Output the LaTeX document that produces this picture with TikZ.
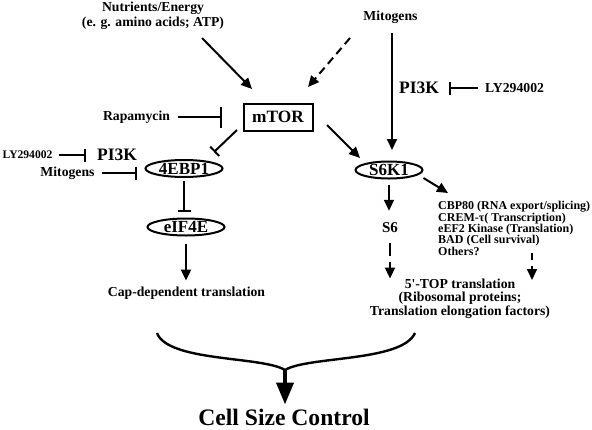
\documentclass[tikz,border=0pt]{standalone}
\usepackage{fontspec}
\setmainfont{Liberation Serif}
\usetikzlibrary{arrows.meta,shapes.geometric}

\tikzset{
    lbl/.style={inner sep=0pt, font=\fontsize{13.7}{15}\selectfont\bfseries},
    smalllbl/.style={inner sep=0pt, font=\fontsize{11.6}{13}\selectfont\bfseries},
    kin/.style={inner sep=0pt, font=\fontsize{17.5}{19}\selectfont\bfseries},
    prot/.style={draw, ellipse, line width=2pt, minimum width=77pt, minimum height=17pt,
        inner sep=0pt, font=\fontsize{17}{18}\selectfont\bfseries},
    tor/.style={draw, line width=2pt, minimum width=69pt, minimum height=27pt,
        inner sep=0pt, font=\fontsize{17.3}{18}\selectfont\bfseries},
    act/.style={line width=2pt, -{Triangle[length=11pt,width=10pt]}},
    inh/.style={line width=2pt, -{Bar[width=13pt,line width=2pt]}},
    dsh/.style={dash pattern=on 8pt off 5pt},
}

\begin{document}
\begin{tikzpicture}[x=1pt,y=1pt]

    \useasboundingbox (0,0) rectangle (592,-429);

    % inputs
    \node[lbl,align=center] (nutr) at (153,-15.5) {Nutrients/Energy\\(e. g. amino acids; ATP)};
    \node[lbl] (mitoT) at (390.5,-17) {Mitogens};
    \node[tor] (mtor) at (278,-117) {mTOR};
    \node[lbl] (rapa) at (136.5,-117) {Rapamycin};

    % left branch
    \node[smalllbl] (lyL) at (27.5,-155) {LY294002};
    \node[kin] (pikL) at (117,-155) {PI3K};
    \node[lbl] (mitoL) at (67.5,-173) {Mitogens};
    \node[prot] (ebp) at (184,-168.5) {4EBP1};
    \node[prot] (eif) at (186,-227) {eIF4E};
    \node[lbl] (cap) at (186.5,-293) {Cap-dependent translation};

    % right branch
    \node[kin] (pikR) at (419,-88) {PI3K};
    \node[lbl] (lyR) at (514.5,-88) {LY294002};
    \node[prot,minimum width=67pt] (s6k) at (389,-170) {S6K1};
    \node[lbl,font=\fontsize{15}{16}\selectfont\bfseries] (s6) at (390,-228) {S6};
    \node[inner sep=0pt,anchor=west,align=left,font=\fontsize{12}{11.3}\selectfont\bfseries] (targ) at (438,-228.5)
        {CBP80 (RNA export/splicing)\\CREM-τ( Transcription)\\eEF2 Kinase (Translation)\\BAD (Cell survival)\\Others?};
    \node[inner sep=0pt,align=center,font=\fontsize{13.7}{13.5}\selectfont\bfseries] (top) at (460,-298.5)
        {5\textquotesingle-TOP translation\\(Ribosomal proteins;\\Translation elongation factors)};

    % output
    \node[inner sep=0pt,font=\fontsize{23.6}{26}\selectfont\bfseries] (size) at (284,-417) {Cell Size Control};
    \coordinate (braceL) at (157,-333);
    \coordinate (braceR) at (415,-333);
    \coordinate (braceM) at (285,-370);

    % connectors
    \draw[act] ([shift={(49,-22.5)}]nutr.center) -- ([shift={(-26,28)}]mtor.center);
    \draw[act,dsh] ([shift={(-40.5,-21)}]mitoT.center) -- ([shift={(30,30)}]mtor.center);
    \draw[act] ([shift={(1.5,-16)}]mitoT.center) -- ([shift={(3,20)}]s6k.center);
    \draw[inh,shorten <=7pt,shorten >=10pt] (lyR.west) -- (pikR.east);
    \draw[inh,-{Bar[width=21pt,line width=2pt]},shorten <=8pt,shorten >=21pt] (rapa.east) -- (mtor.west);
    \draw[inh] ([shift={(-41,-13)}]mtor.center) -- ([shift={(30,16.5)}]ebp.center);
    \draw[act] ([shift={(49,-8)}]mtor.center) -- ([shift={(-29,12)}]s6k.center);

    \draw[inh,shorten <=6pt,shorten >=11pt] (lyL.east) -- (pikL.west);
    \draw[inh,shorten <=7pt,shorten >=8pt] (mitoL.east) -- (mitoL.east -| ebp.west);
    \draw[inh,shorten <=3pt,shorten >=6pt] (ebp.south) -- (ebp.south |- eif.north);
    \draw[act,shorten <=7pt,shorten >=6pt] (eif.south) -- (eif.south |- cap.north);

    \draw[act,shorten <=5pt,shorten >=12pt] (s6k.south) -- (s6k.south |- s6.north);
    \draw[act,dash pattern=on 13pt off 6pt,shorten <=10pt] (s6.south) -- (s6.south |- top.north);
    \draw[act] ([shift={(34.5,-8)}]s6k.center) -- ([shift={(10,35.5)}]targ.west);
    \draw[act,dash pattern=on 7pt off 6pt] ([shift={(94,-24.5)}]targ.west) -- ([shift={(72,18.5)}]top.center);

    \draw[line width=2.4pt] (braceL) .. controls (168,-362) and (262,-356) .. (braceM)
        .. controls (308,-356) and (402,-362) .. (braceR);
    \draw[line width=4pt,-{Triangle[length=22pt,width=17pt]},shorten >=4pt] (braceM) -- (braceM |- size.north);

\end{tikzpicture}
\end{document}
